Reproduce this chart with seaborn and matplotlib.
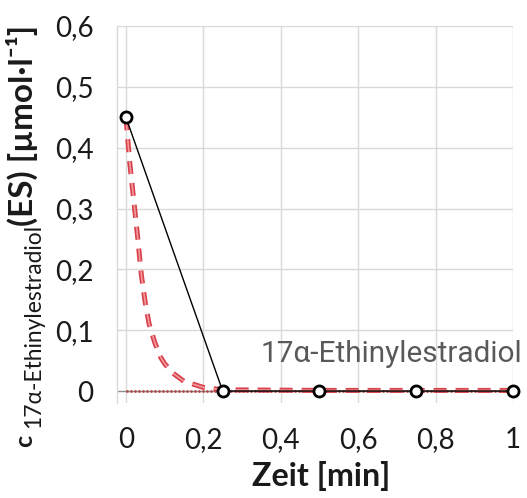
import matplotlib
matplotlib.use("Agg")
import matplotlib.pyplot as plt
from matplotlib.transforms import IdentityTransform
from matplotlib import font_manager
import seaborn as sns
import pandas as pd

# data
meas_x = [0, 0.25, 0.5, 0.75, 1.0]
meas_y = [0.45, 0.0, 0.0, 0.0, 0.0]
model_x = [0, 0.01, 0.02, 0.03, 0.04, 0.05, 0.06, 0.075, 0.09, 0.1, 0.12, 0.15, 0.2, 0.25, 0.5, 0.75, 1.0]
model_y = [0.45, 0.375, 0.315, 0.255, 0.19, 0.145, 0.11, 0.079, 0.055, 0.045, 0.03, 0.016, 0.006, 0.002, 0.001, 0.001, 0.001]
zero_x = [0, 1.0]
zero_y = [0, 0]
xticks = [0, 0.2, 0.4, 0.6, 0.8, 1.0]
xticklabels = ["0", "0,2", "0,4", "0,6", "0,8", "1"]
yticks = [0, 0.1, 0.2, 0.3, 0.4, 0.5, 0.6]
yticklabels = ["0", "0,1", "0,2", "0,3", "0,4", "0,5", "0,6"]
annotation = "17α-Ethinylestradiol"
ylab_c = "c"
ylab_sub = "17α-Ethinylestradiol"
ylab_rest = "(ES) [µmol·l⁻¹]"
xlab = "Zeit [min]"

sns.set_style("white")
FAM = ['Lato', 'DejaVu Sans']
plt.rcParams['font.family'] = FAM

names = {f.name for f in font_manager.fontManager.ttflist}
narrow = 'Liberation Sans Narrow' if 'Liberation Sans Narrow' in names else 'Roboto'

W, H = 527, 498
fig = plt.figure(figsize=(W / 100, H / 100), dpi=100)
ax = fig.add_axes([117 / W, 1 - 403 / H, (513 - 117) / W, (403 - 26) / H])
ax.set_xlim(-0.023, 1.0)
ax.set_ylim(-0.0197, 0.6)

for v in xticks:
    ax.axvline(v, color='#d9d9d9', lw=1, zorder=0)
for v in yticks[1:]:
    ax.axhline(v, color='#d9d9d9', lw=1, zorder=0)
ax.axhline(0, color='#8c8c8c', lw=1, zorder=0.5)

d0 = pd.DataFrame({'x': zero_x, 'y': zero_y})
sns.lineplot(data=d0, x='x', y='y', ax=ax, color='#b03a3a', lw=1.8,
             linestyle=(0, (0.8, 0.8)), zorder=2)

dm = pd.DataFrame({'x': model_x, 'y': model_y})
sns.lineplot(data=dm, x='x', y='y', ax=ax, color='#d8404a', lw=3.6,
             linestyle=(0, (2.6, 1.8)), zorder=3, sort=False)
sns.lineplot(data=dm, x='x', y='y', ax=ax, color='#f29a9e', lw=1.2,
             linestyle=(0, (7.8, 5.4)), zorder=3.1, sort=False)

dd = pd.DataFrame({'x': meas_x, 'y': meas_y})
sns.lineplot(data=dd, x='x', y='y', ax=ax, color='black', lw=1,
             marker='o', markersize=8, markerfacecolor='white',
             markeredgecolor='black', markeredgewidth=2, zorder=4, clip_on=False)

ax.set_xticks(xticks)
ax.set_xticklabels(xticklabels, fontsize=20, color='#1a1a1a')
ax.set_yticks(yticks)
ax.set_yticklabels(yticklabels, fontsize=20, color='#1a1a1a')
ax.tick_params(axis='x', length=0, pad=17)
ax.tick_params(axis='y', length=3, width=1, color='#bfbfbf', pad=14)
ax.set_xlabel("")
ax.set_ylabel("")

for s in ['top', 'right', 'bottom']:
    ax.spines[s].set_visible(False)
ax.spines['left'].set_color('#d9d9d9')
ax.spines['left'].set_linewidth(1)

ident = IdentityTransform()
def dy(py):
    return H - py

t_x = fig.text(321, dy(486), xlab, transform=ident, ha='center', va='baseline',
               fontsize=18, fontweight='bold', color='#1a1a1a')
t_c = fig.text(32, dy(447), ylab_c, transform=ident, rotation=90, rotation_mode='anchor',
               ha='left', va='baseline', fontsize=18, fontweight='bold', color='#1a1a1a')
t_s = fig.text(40, dy(428), ylab_sub, transform=ident, rotation=90, rotation_mode='anchor',
               ha='left', va='baseline', fontsize=13, color='#1a1a1a')
t_r = fig.text(33, dy(226), ylab_rest, transform=ident, rotation=90, rotation_mode='anchor',
               ha='left', va='baseline', fontsize=18, fontweight='bold', color='#1a1a1a')
t_a = fig.text(522, dy(362), annotation, transform=ident, ha='right', va='baseline',
               fontsize=22, color='#595959', family=[narrow, 'Roboto', 'DejaVu Sans'])

def fit(t, target, vertical=False):
    for _ in range(3):
        fig.canvas.draw()
        bb = t.get_window_extent(fig.canvas.get_renderer())
        length = bb.height if vertical else bb.width
        t.set_fontsize(t.get_fontsize() * target / length)

fit(t_x, 138)
fit(t_s, 204, vertical=True)
fit(t_r, 201, vertical=True)
fit(t_a, 262)

fig.savefig("out.png", dpi=100, facecolor='white')
